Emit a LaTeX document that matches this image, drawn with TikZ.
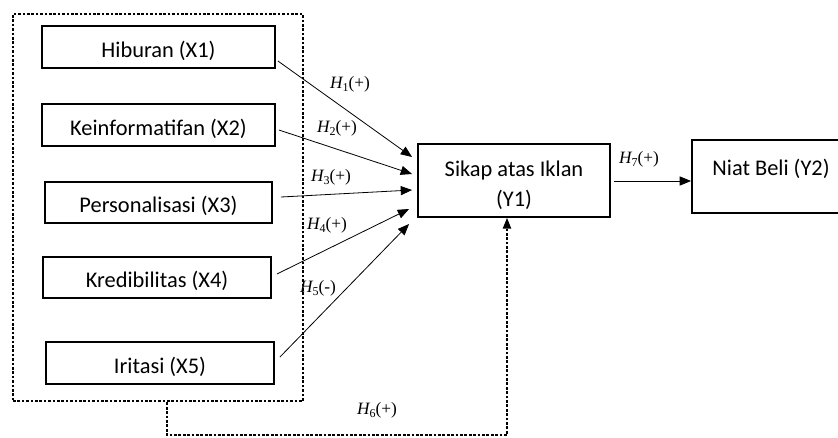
\RequirePackage{fix-cm}
\documentclass[tikz,border=0pt]{standalone}
\usepackage{fontspec}
\setmainfont{Carlito}
\newfontfamily\labfont{Liberation Serif}
\usetikzlibrary{arrows.meta}
\newcommand\hlab[2]{{\itshape H}\raisebox{-2.2pt}{\fontsize{9}{9}\selectfont #1}(#2)}
\tikzset{
  boxline/.style={draw, line width=1.4pt, inner sep=0pt,
    font=\fontsize{16.8}{22.5}\selectfont},
  xbox/.style={boxline, text height=19pt, text depth=3.4pt},
  ybox/.style={boxline, align=center},
  grpbox/.style={draw, line width=2.2pt, dash pattern=on 2pt off 1.3pt, inner sep=0pt},
  hyp/.style={line width=0.6pt, -{Triangle[length=8.5pt,width=6.8pt]}},
  hypdot/.style={line width=2.2pt, dash pattern=on 2pt off 1.3pt,
    -{Triangle[length=8pt,width=6.5pt,line width=0pt]}},
  lab/.style={inner sep=0pt, font=\labfont\fontsize{13}{15}\selectfont}
}
\begin{document}
\begin{tikzpicture}[x=0.75pt, y=-0.75pt]
\useasboundingbox (0,0) rectangle (838,437);
% grouping frame
\node[grpbox, minimum width=290*0.75pt, minimum height=387*0.75pt] (grp) at (158,207.5) {};
% predictor boxes
\node[xbox, minimum width=233*0.75pt, minimum height=42*0.75pt] (X1) at (158.5,47) {Hiburan (X1)};
\node[xbox, minimum width=233*0.75pt, minimum height=42*0.75pt] (X2) at (158.5,125) {Keinformatifan (X2)};
\node[xbox, minimum width=227*0.75pt, minimum height=41*0.75pt] (X3) at (158.5,202.5) {Personalisasi (X3)};
\node[xbox, minimum width=228*0.75pt, minimum height=41*0.75pt] (X4) at (157,277.5) {Kredibilitas (X4)};
\node[xbox, minimum width=228*0.75pt, minimum height=42*0.75pt] (X5) at (160,363) {Iritasi (X5)};
% outcome boxes
\node[ybox, minimum width=192*0.75pt, minimum height=73*0.75pt] (Y1) at (514,180.5) {\rule{0pt}{19pt}Sikap atas Iklan\\(Y1)};
\node[boxline, text height=12.6pt, text depth=14.6pt, minimum width=158*0.75pt, minimum height=73*0.75pt] (Y2) at (771,176.5) {Niat Beli (Y2)};
% hypotheses arrows
\draw[hyp] ([shift={(2,14)}]X1.east) -- ([shift={(-5,-23.5)}]Y1.west);
\draw[hyp] ([shift={(3,5)}]X2.east) -- ([shift={(-5,-6.5)}]Y1.west);
\draw[hyp] ([shift={(8,-5.5)}]X3.east) -- ([shift={(-5,9.5)}]Y1.west);
\draw[hyp] ([shift={(5,-3.5)}]X4.east) -- ([shift={(-8,28.5)}]Y1.west);
\draw[hyp] ([shift={(5,-6)}]X5.east) -- ([shift={(-8,43.5)}]Y1.west);
\draw[hyp] ([shift={(3,0.5)}]Y1.east) -- ([shift={(0,4.5)}]Y2.west);
% H6 dotted connector
\coordinate (c6a) at (167,435);
\coordinate (c6b) at (507,435);
\draw[hypdot] (grp.south -| c6a) -- (c6a) -- (c6b) -- (c6b |- Y1.south);
% labels
\node[lab] (l1) at (350,84) {\hlab{1}{+}};
\node[lab] (l2) at (337,128) {\hlab{2}{+}};
\node[lab] (l3) at (331,177) {\hlab{3}{+}};
\node[lab] (l4) at (327,225) {\hlab{4}{+}};
\node[lab] (l5) at (318,288) {\hlab{5}{-}};
\node[lab] (l6) at (377,410) {\hlab{6}{+}};
\node[lab] (l7) at (639,159) {\hlab{7}{+}};
\end{tikzpicture}
\end{document}
